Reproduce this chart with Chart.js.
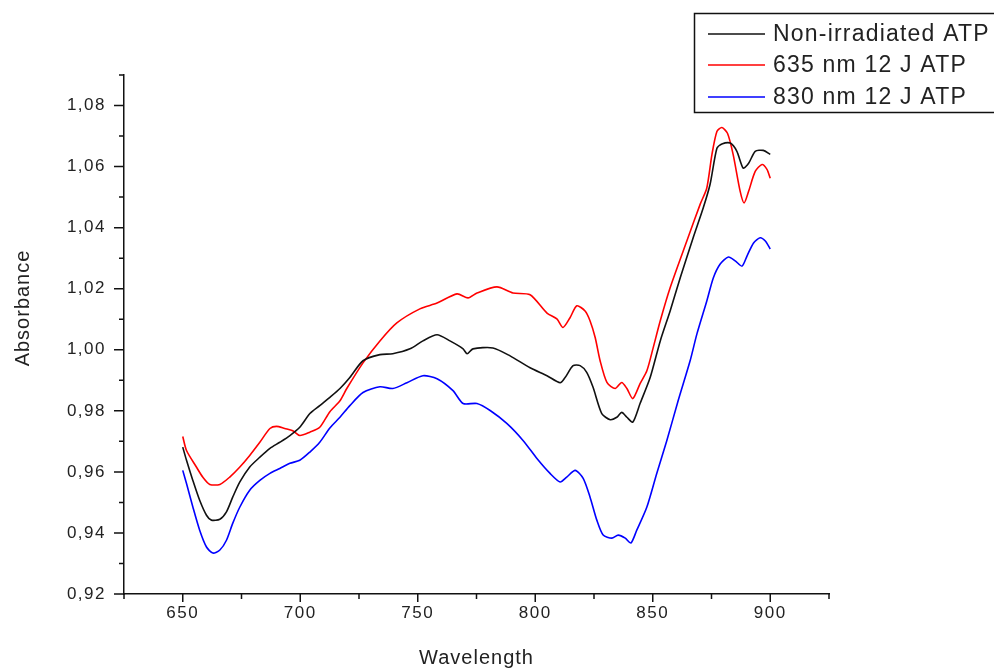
<!DOCTYPE html>
<html>
<head>
<meta charset="utf-8">
<script src="https://cdn.jsdelivr.net/npm/chart.js@4.4.1/dist/chart.umd.min.js"></script>
<style>
  html, body { margin: 0; padding: 0; background: #ffffff; }
  canvas { display: block; }
</style>
</head>
<body>
<canvas id="spectrum" width="994" height="670"></canvas>
<script>
// Absorption spectra of ATP, 650–900 nm
const seriesLabels = ['Non-irradiated ATP', '635 nm 12 J ATP', '830 nm 12 J ATP'];

const controlNm = [650,651.6,654.3,657.2,660.1,662.2,665.8,668.6,671.3,674.3,678.5,682.8,687.1,691.3,695.6,699.8,704.1,708.3,712.6,716.9,721.1,726.7,733.9,739.4,746.7,752.2,758.2,763.7,769.3,771.0,773.5,782.0,789.3,797.8,805.0,810.6,812.7,816.1,819.1,821.9,824.6,828.3,831.9,834.7,836.8,839.0,841.5,844.6,848.9,853.2,857.4,861.7,867.2,871.5,874.4,877.3,879.4,883.0,885.8,888.5,890.8,893.6,897.0,900];
const controlAbs = [0.9681,0.9638,0.9572,0.9507,0.9458,0.9442,0.9445,0.9469,0.9518,0.9567,0.9616,0.9648,0.9677,0.9697,0.9719,0.9746,0.9791,0.9817,0.9844,0.9873,0.9909,0.9964,0.9984,0.9987,1.0003,1.0029,1.0049,1.0029,1.0003,0.9987,1.0003,1.0006,0.9980,0.9941,0.9915,0.9892,0.9909,0.9948,0.9948,0.9926,0.9877,0.9791,0.9771,0.9779,0.9795,0.9779,0.9763,0.9824,0.9909,1.0029,1.0127,1.0236,1.0367,1.0465,1.0542,1.0660,1.0674,1.0677,1.0650,1.0595,1.0611,1.0650,1.0653,1.0640];

const red635Nm = [650,651.6,655.8,658.5,661.5,665.8,670.0,674.3,678.5,682.8,687.1,689.9,693.4,696.8,699.8,704.1,708.3,712.6,716.9,719.8,726.7,733.9,741.1,750.9,758.2,766.7,771.4,775.2,783.7,790.5,797.8,805.0,809.2,811.8,814.8,817.7,821.2,823.3,825.5,827.6,830.5,834.0,836.8,839.0,841.5,844.6,847.5,850.2,853.2,857.4,864.5,870.2,873.0,875.2,877.3,879.4,881.8,884.2,887.2,888.9,890.8,893.6,896.5,898.6,900];
const red635Abs = [0.9716,0.9670,0.9616,0.9583,0.9559,0.9559,0.9583,0.9616,0.9654,0.9697,0.9742,0.9749,0.9742,0.9735,0.9719,0.9730,0.9746,0.9797,0.9833,0.9873,0.9957,1.0029,1.0088,1.0134,1.0153,1.0183,1.0170,1.0186,1.0206,1.0186,1.0180,1.0120,1.0101,1.0073,1.0105,1.0144,1.0127,1.0095,1.0040,0.9964,0.9893,0.9873,0.9893,0.9873,0.9840,0.9889,0.9931,1.0007,1.0095,1.0203,1.0356,1.0477,1.0530,1.0640,1.0715,1.0728,1.0709,1.0640,1.0519,1.0481,1.0519,1.0584,1.0607,1.0591,1.0562];

const ir830Nm = [650,651.6,654.3,657.2,660.1,662.8,665.8,668.6,671.3,674.3,678.5,682.8,687.1,691.3,695.6,699.8,704.1,708.3,712.6,716.9,721.1,726.7,733.9,739.4,745.4,752.2,758.2,765.0,769.3,775.2,780.8,788.0,794.8,800.8,806.3,810.6,813.4,817.0,820.4,823.3,826.2,828.9,832.6,835.3,838.3,840.7,843.2,847.5,851.7,856.0,860.8,865.9,868.8,873.0,875.8,878.7,882.2,885.1,888.0,890.1,892.9,895.7,897.9,900];
const ir830Abs = [0.9605,0.9562,0.9485,0.9409,0.9354,0.9334,0.9344,0.9376,0.9432,0.9485,0.9540,0.9572,0.9595,0.9611,0.9628,0.9638,0.9665,0.9697,0.9744,0.9779,0.9817,0.9860,0.9879,0.9873,0.9892,0.9915,0.9905,0.9866,0.9824,0.9824,0.9801,0.9758,0.9703,0.9643,0.9595,0.9567,0.9583,0.9605,0.9579,0.9518,0.9442,0.9393,0.9383,0.9393,0.9383,0.9367,0.9409,0.9485,0.9595,0.9703,0.9833,0.9964,1.0052,1.0160,1.0236,1.0281,1.0304,1.0291,1.0274,1.0307,1.0350,1.0367,1.0356,1.0330];

const xTitle = 'Wavelength';
const yTitle = 'Absorbance';

const FONT = '"Liberation Sans", Arial, sans-serif';
const TEXT = '#222222';
const AXIS = '#111111';

const toPoints = (xs, ys) => xs.map((x, i) => ({ x, y: ys[i] }));

// Tick marks (major/minor), axis titles and the framed legend
const decorations = {
  id: 'decorations',
  beforeDraw(chart) {
    chart.ctx.letterSpacing = '1.5px';
  },
  afterDraw(chart) {
    const { ctx, scales: { x, y } } = chart;
    ctx.save();
    ctx.strokeStyle = AXIS;
    ctx.lineWidth = 1.5;
    ctx.beginPath();
    y.ticks.forEach(t => {
      const py = y.getPixelForValue(t.value);
      const len = t.label !== '' ? 10 : 5;
      ctx.moveTo(y.right, py);
      ctx.lineTo(y.right - len, py);
    });
    x.ticks.forEach(t => {
      const px = x.getPixelForValue(t.value);
      const len = t.label !== '' ? 8 : 5;
      ctx.moveTo(px, x.top);
      ctx.lineTo(px, x.top + len);
    });
    ctx.stroke();

    ctx.fillStyle = TEXT;
    ctx.letterSpacing = '1px';
    ctx.font = '20px ' + FONT;
    ctx.textAlign = 'center';
    ctx.textBaseline = 'alphabetic';
    ctx.fillText(xTitle, (x.left + x.right) / 2, 664);

    ctx.save();
    ctx.translate(23, 308);
    ctx.rotate(-Math.PI / 2);
    ctx.textBaseline = 'middle';
    ctx.fillText(yTitle, 0, 0);
    ctx.restore();

    // legend frame
    ctx.lineWidth = 1.5;
    ctx.strokeStyle = AXIS;
    ctx.strokeRect(694.5, 13.5, 320, 99);
    ctx.letterSpacing = '1.2px';
    ctx.font = '23px ' + FONT;
    ctx.textAlign = 'left';
    ctx.textBaseline = 'middle';
    const rows = [34, 65, 97];
    chart.data.datasets.forEach((ds, i) => {
      ctx.strokeStyle = ds.borderColor;
      ctx.lineWidth = 1.5;
      ctx.beginPath();
      ctx.moveTo(708, rows[i]);
      ctx.lineTo(765, rows[i]);
      ctx.stroke();
      ctx.fillStyle = TEXT;
      ctx.fillText(ds.label, 773, rows[i] + 1);
    });
    ctx.restore();
  }
};

new Chart(document.getElementById('spectrum'), {
  type: 'line',
  data: {
    datasets: [
      { label: seriesLabels[0], data: toPoints(controlNm, controlAbs), borderColor: '#111111' },
      { label: seriesLabels[1], data: toPoints(red635Nm, red635Abs), borderColor: '#ff0000' },
      { label: seriesLabels[2], data: toPoints(ir830Nm, ir830Abs), borderColor: '#0000ff' }
    ]
  },
  options: {
    responsive: false,
    devicePixelRatio: 1,
    animation: false,
    elements: {
      line: { borderWidth: 1.6, tension: 0.25, fill: false },
      point: { radius: 0 }
    },
    layout: { padding: { top: 75, right: 165, left: 0, bottom: 0 } },
    plugins: { legend: { display: false }, tooltip: { enabled: false } },
    scales: {
      x: {
        type: 'linear',
        min: 625,
        max: 925,
        afterFit(scale) { scale.height = 76; },
        grid: { display: false, drawTicks: false },
        border: { display: true, color: AXIS, width: 1.5 },
        ticks: {
          stepSize: 25,
          autoSkip: false,
          maxRotation: 0,
          padding: 9,
          color: TEXT,
          font: { family: FONT, size: 17 },
          callback: v => (v % 50 === 0 ? String(v) : '')
        }
      },
      y: {
        type: 'linear',
        min: 0.92,
        max: 1.09,
        afterFit(scale) { scale.width = 124; },
        grid: { display: false, drawTicks: false },
        border: { display: true, color: AXIS, width: 1.5 },
        ticks: {
          stepSize: 0.01,
          autoSkip: false,
          padding: 18,
          color: TEXT,
          font: { family: FONT, size: 17 },
          callback: v => (Math.round(v * 100) % 2 === 0 ? v.toFixed(2).replace('.', ',') : '')
        }
      }
    }
  },
  plugins: [decorations]
});
</script>
</body>
</html>
